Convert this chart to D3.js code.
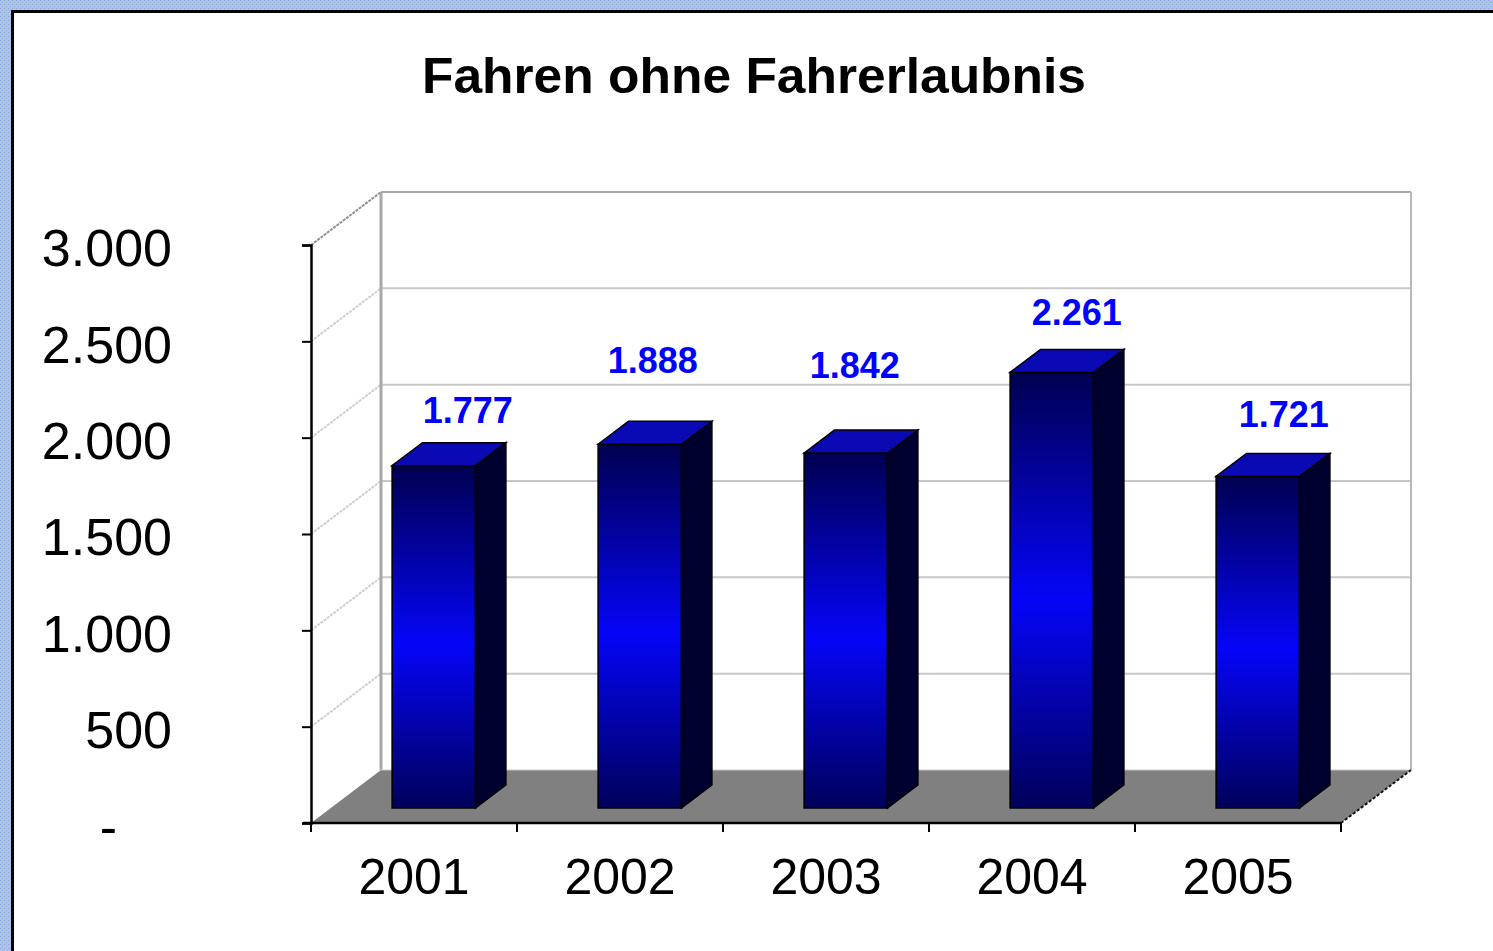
<!DOCTYPE html>
<html>
<head>
<meta charset="utf-8">
<script src="https://cdn.jsdelivr.net/npm/d3@7"></script>
<style>
  html, body { margin: 0; padding: 0; background: #fff; }
  svg { display: block; }
  text { font-family: "Liberation Sans", Arial, sans-serif; }
</style>
</head>
<body>
<svg id="chart" width="1493" height="951"></svg>
<script>
// ---- data ----
const title = "Fahren ohne Fahrerlaubnis";
const years = ["2001", "2002", "2003", "2004", "2005"];
const values = [1777, 1888, 1842, 2261, 1721];
const yTicks = [0, 500, 1000, 1500, 2000, 2500, 3000];

// ---- layout (not data) ----
const labelDx = [34, 13, 9, 25, 26];
const labelDy = [-58, -86, -90, -62, -64];

const svg = d3.select("#chart");
const W = 1493, H = 951;
const X0 = 311, X1 = 1341, Y0 = 823, YT = 245;
const DX = 70, DY = 53;       // depth vector
const f1 = 0.283, f2 = 0.717; // bar depth range (fraction)

const fmt = v => v === 0 ? "-" : d3.format(",")(v).replace(/,/g, ".");

const x = d3.scaleBand().domain(years).range([X0, X1]).padding(0);
const y = d3.scaleLinear().domain([0, 3000]).range([Y0, YT]);

// background pattern
const defs = svg.append("defs");
const pat = defs.append("pattern").attr("id", "bgpat").attr("patternUnits", "userSpaceOnUse")
  .attr("width", 4).attr("height", 4);
pat.append("rect").attr("width", 4).attr("height", 4).attr("fill", "#9ccfcf");
pat.append("rect").attr("x", 0).attr("y", 0).attr("width", 1).attr("height", 1).attr("fill", "#9c9cf0");
pat.append("rect").attr("x", 2).attr("y", 2).attr("width", 1).attr("height", 1).attr("fill", "#a8a8f0");

const grad = defs.append("linearGradient").attr("id", "barGrad")
  .attr("x1", 0).attr("y1", 0).attr("x2", 0).attr("y2", 1);
grad.append("stop").attr("offset", "0%").attr("stop-color", "#000050");
grad.append("stop").attr("offset", "52%").attr("stop-color", "#0505f8");
grad.append("stop").attr("offset", "100%").attr("stop-color", "#00005a");

svg.append("rect").attr("width", W).attr("height", H).attr("fill", "url(#bgpat)");
svg.append("rect").attr("x", 11).attr("y", 10).attr("width", W).attr("height", H)
  .attr("fill", "#888");
svg.append("rect").attr("x", 12.5).attr("y", 11.5).attr("width", W).attr("height", H)
  .attr("fill", "#fff").attr("stroke", "#000").attr("stroke-width", 3);

// title
svg.append("text").attr("x", 754).attr("y", 93).attr("text-anchor", "middle")
  .attr("font-size", 50).attr("font-weight", "bold").attr("fill", "#000")
  .attr("textLength", 664).attr("lengthAdjust", "spacingAndGlyphs")
  .text(title);

const g = svg.append("g");

// floor
const floorPts = [[X0, Y0], [X1, Y0], [X1 + DX, Y0 - DY], [X0 + DX, Y0 - DY]];
g.append("polygon").attr("points", floorPts.map(p => p.join(",")).join(" "))
  .attr("fill", "#808080");

// back wall gridlines + left wall diagonals
yTicks.forEach(t => {
  const yy = y(t);
  if (t > 0) {
    g.append("line").attr("x1", X0 + DX).attr("x2", X1 + DX)
      .attr("y1", yy - DY).attr("y2", yy - DY)
      .attr("stroke", t === 3000 ? "#a8a8a8" : "#c8c8c8").attr("stroke-width", 2);
    g.append("line").attr("x1", X0).attr("y1", yy).attr("x2", X0 + DX).attr("y2", yy - DY)
      .attr("stroke", t === 3000 ? "#909090" : "#cfcfcf").attr("stroke-width", 2)
      .attr("stroke-dasharray", "3,1");
  }
});
// back wall edges
g.append("line").attr("x1", X0 + DX).attr("x2", X0 + DX).attr("y1", y(3000) - DY).attr("y2", Y0 - DY)
  .attr("stroke", "#a8a8a8").attr("stroke-width", 3);
g.append("line").attr("x1", X1 + DX).attr("x2", X1 + DX).attr("y1", y(3000) - DY).attr("y2", Y0 - DY)
  .attr("stroke", "#b8b8b8").attr("stroke-width", 2);
g.append("line").attr("x1", X0 + DX).attr("x2", X1 + DX).attr("y1", Y0 - DY).attr("y2", Y0 - DY)
  .attr("stroke", "#c8c8c8").attr("stroke-width", 1);
// right floor edge
g.append("line").attr("x1", X1).attr("y1", Y0).attr("x2", X1 + DX).attr("y2", Y0 - DY)
  .attr("stroke", "#111").attr("stroke-width", 2).attr("stroke-dasharray", "3,2");

// bars
const bw = x.bandwidth() * 0.405;
const ddx = (f2 - f1) * DX, ddy = (f2 - f1) * DY;
const bars = g.selectAll("g.bar").data(values.map((v, i) => ({ v, i, c: years[i] })))
  .enter().append("g").attr("class", "bar");
bars.each(function (d) {
  const sel = d3.select(this);
  const left = x(d.c) + (x.bandwidth() - bw) / 2 + f1 * DX;
  const right = left + bw;
  const top = y(d.v) - f1 * DY;
  const bottom = Y0 - f1 * DY;
  sel.append("rect").attr("x", left).attr("y", top).attr("width", bw).attr("height", bottom - top)
    .attr("fill", "url(#barGrad)").attr("stroke", "#000").attr("stroke-width", 1.5);
  sel.append("polygon").attr("points", [[right, top], [right + ddx, top - ddy], [right + ddx, bottom - ddy], [right, bottom]].map(p => p.join(",")).join(" "))
    .attr("fill", "#00002e").attr("stroke", "#000").attr("stroke-width", 1.5);
  sel.append("polygon").attr("points", [[left, top], [left + ddx, top - ddy], [right + ddx, top - ddy], [right, top]].map(p => p.join(",")).join(" "))
    .attr("fill", "#0a0ab4").attr("stroke", "#000").attr("stroke-width", 1.5);
  sel.append("text").attr("x", (left + right) / 2 + labelDx[d.i]).attr("y", y(d.v) + labelDy[d.i])
    .attr("text-anchor", "middle").attr("font-size", 36).attr("font-weight", "bold")
    .attr("fill", "#0000ff").text(fmt(d.v));
});

// y axis
const yAxis = d3.axisLeft(y).tickValues(yTicks).tickSize(9).tickPadding(130).tickFormat(fmt);
const ya = svg.append("g").attr("transform", `translate(${X0},0)`).call(yAxis);
ya.select(".domain").attr("stroke", "#000").attr("stroke-width", 2.5);
ya.selectAll(".tick line").attr("stroke", "#000").attr("stroke-width", 2);
ya.selectAll(".tick text").attr("font-size", 52).attr("fill", "#000")
  .attr("font-family", "'Liberation Sans', Arial, sans-serif").attr("dy", "0.4em");
ya.selectAll(".tick").filter(d => d === 0).select("text").attr("x", -194).attr("dy", "0.42em");

// x axis
const xAxis = d3.axisBottom(x).tickSize(0).tickPadding(41);
const xa = svg.append("g").attr("transform", `translate(0,${Y0})`).call(xAxis);
xa.select(".domain").remove();
xa.selectAll(".tick text").attr("font-size", 50).attr("fill", "#000")
  .attr("font-family", "'Liberation Sans', Arial, sans-serif").attr("dy", "0.6em");
svg.append("line").attr("x1", X0 - 8).attr("x2", X1).attr("y1", Y0).attr("y2", Y0)
  .attr("stroke", "#000").attr("stroke-width", 2.5);
const bounds = years.map(c => x(c)).concat([X1]);
svg.selectAll("line.xt").data(bounds).enter().append("line").attr("class", "xt")
  .attr("x1", d => d).attr("x2", d => d).attr("y1", Y0).attr("y2", Y0 + 9)
  .attr("stroke", "#000").attr("stroke-width", 2);
</script>
</body>
</html>
